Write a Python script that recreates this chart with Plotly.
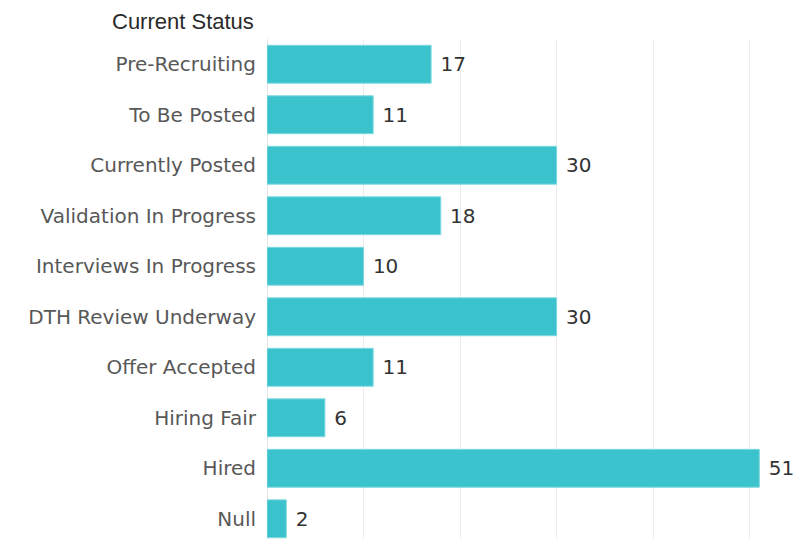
import plotly.graph_objects as go

statuses = [
    "Pre-Recruiting", "To Be Posted", "Currently Posted", "Validation In Progress",
    "Interviews In Progress", "DTH Review Underway", "Offer Accepted",
    "Hiring Fair", "Hired", "Null",
]
counts = [17, 11, 30, 18, 10, 30, 11, 6, 51, 2]

fig = go.Figure(go.Bar(
    x=counts,
    y=statuses,
    orientation="h",
    width=0.75,
    marker=dict(color="#3bc3cd", line=dict(color="#7fd8de", width=1)),
    text=[" " + str(c) for c in counts],
    textposition="outside",
    textfont=dict(family="DejaVu Sans, sans-serif", size=20, color="#333333"),
    cliponaxis=False,
))

fig.update_layout(
    width=796,
    height=539,
    margin=dict(l=267, r=0, t=39, b=0),
    paper_bgcolor="white",
    plot_bgcolor="white",
    showlegend=False,
    xaxis=dict(
        range=[0, 54.8],
        dtick=10,
        showgrid=True,
        gridcolor="#ececec",
        gridwidth=1,
        showticklabels=False,
        zeroline=True,
        zerolinecolor="#e6e6e6",
        zerolinewidth=1,
        showline=False,
    ),
    yaxis=dict(
        categoryorder="array",
        categoryarray=statuses,
        range=[9.4, -0.5],
        showgrid=False,
        ticks="",
        ticklabelstandoff=10,
        automargin=False,
        tickfont=dict(family="DejaVu Sans, sans-serif", size=20, color="#585858"),
    ),
    annotations=[dict(
        text="Current Status",
        xref="paper", yref="paper",
        x=-0.02, y=1.0, xanchor="right", yanchor="bottom", yshift=3,
        showarrow=False,
        font=dict(family="Liberation Sans, Arial, sans-serif", size=22, color="#2a2a2a"),
    )],
)

# drop the browser's default 8px body margin so the figure fills the window
fig.write_html(
    "out.html",
    config={"displayModeBar": False},
    post_script="document.body.style.margin = '0';",
)
